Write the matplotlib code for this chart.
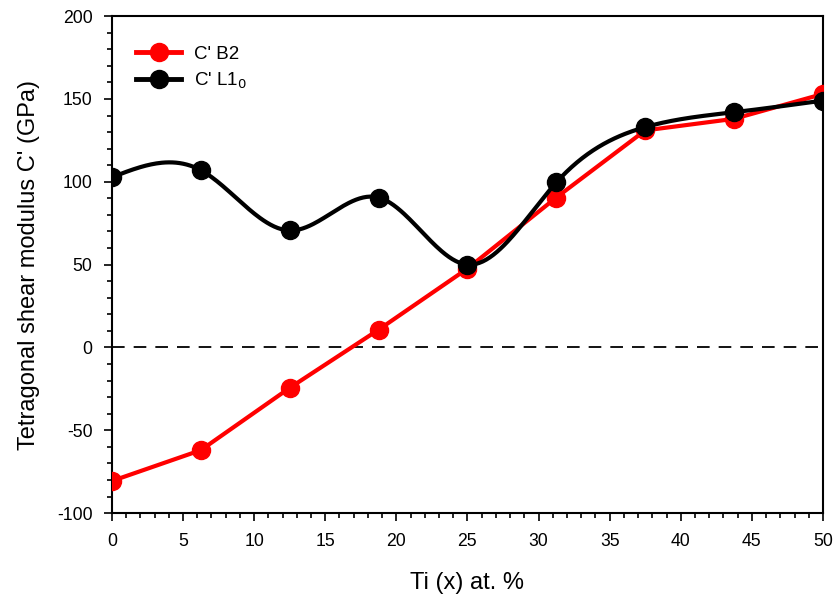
import numpy as np
import matplotlib
matplotlib.use("Agg")
import matplotlib.pyplot as plt
from matplotlib.ticker import MultipleLocator

plt.rcParams["font.family"] = ["Liberation Sans", "DejaVu Sans"]
plt.rcParams["axes.unicode_minus"] = False

ti_x = [0, 6.25, 12.5, 18.75, 25, 31.25, 37.5, 43.75, 50]
c_b2 = [-80.6, -62, -24.4, 10.7, 47.6, 90.5, 131, 138, 153]
c_l10 = [102.7, 107, 70.6, 90.5, 50, 99.6, 133, 142, 149]


def natural_spline(x, y, n=400):
    # plain natural cubic spline, no scipy needed
    x = np.asarray(x, float)
    y = np.asarray(y, float)
    k = len(x)
    h = np.diff(x)
    A = np.zeros((k, k))
    r = np.zeros(k)
    A[0, 0] = A[-1, -1] = 1
    for i in range(1, k - 1):
        A[i, i - 1] = h[i - 1]
        A[i, i] = 2 * (h[i - 1] + h[i])
        A[i, i + 1] = h[i]
        r[i] = 6 * ((y[i + 1] - y[i]) / h[i] - (y[i] - y[i - 1]) / h[i - 1])
    m = np.linalg.solve(A, r)
    xs = np.linspace(x[0], x[-1], n)
    idx = np.clip(np.searchsorted(x, xs) - 1, 0, k - 2)
    x0, x1 = x[idx], x[idx + 1]
    hh = x1 - x0
    t0, t1 = x1 - xs, xs - x0
    ys = (m[idx] * t0**3 + m[idx + 1] * t1**3) / (6 * hh) \
        + (y[idx] / hh - m[idx] * hh / 6) * t0 \
        + (y[idx + 1] / hh - m[idx + 1] * hh / 6) * t1
    return xs, ys


fig = plt.figure(figsize=(8.35, 5.96), dpi=100)
ax = fig.add_axes([0.134, 0.139, 0.8516, 0.834])

ax.axhline(0, color="black", lw=1.3, ls=(0, (7, 5)), zorder=1)

ax.plot(ti_x, c_b2, color="#ff0000", lw=3, zorder=2)
ax.plot(ti_x, c_b2, "o", color="#ff0000", ms=13, zorder=3)

sx, sy = natural_spline(ti_x, c_l10)
ax.plot(sx, sy, color="black", lw=3, zorder=4)
ax.plot(ti_x, c_l10, "o", color="black", ms=13, zorder=5)

# legend handles
ax.plot([], [], "-o", color="#ff0000", lw=3.5, ms=13, label="C' B2")
ax.plot([], [], "-o", color="black", lw=3.5, ms=13, label="C' L1$_0$")
ax.legend(loc="upper left", frameon=False, fontsize=13.5, handlelength=2.4,
          bbox_to_anchor=(0.0, 0.99), borderaxespad=0.9, labelspacing=0.45,
          handletextpad=0.7)

ax.set_xlim(0, 50)
ax.set_ylim(-100, 200)
ax.xaxis.set_major_locator(MultipleLocator(5))
ax.xaxis.set_minor_locator(MultipleLocator(1))
ax.yaxis.set_major_locator(MultipleLocator(50))
ax.yaxis.set_minor_locator(MultipleLocator(10))
ax.tick_params(which="both", direction="out", top=False, right=False,
               labelsize=12.7, width=1.2)
ax.tick_params(which="major", length=6, pad=8)
ax.tick_params(which="minor", length=3.5)
for s in ax.spines.values():
    s.set_linewidth(1.5)

ax.set_xlabel("Ti (x) at. %", fontsize=17, labelpad=16)
ax.set_ylabel("Tetragonal shear modulus C' (GPa)", fontsize=17, labelpad=12)

fig.savefig("out.png", dpi=100)
